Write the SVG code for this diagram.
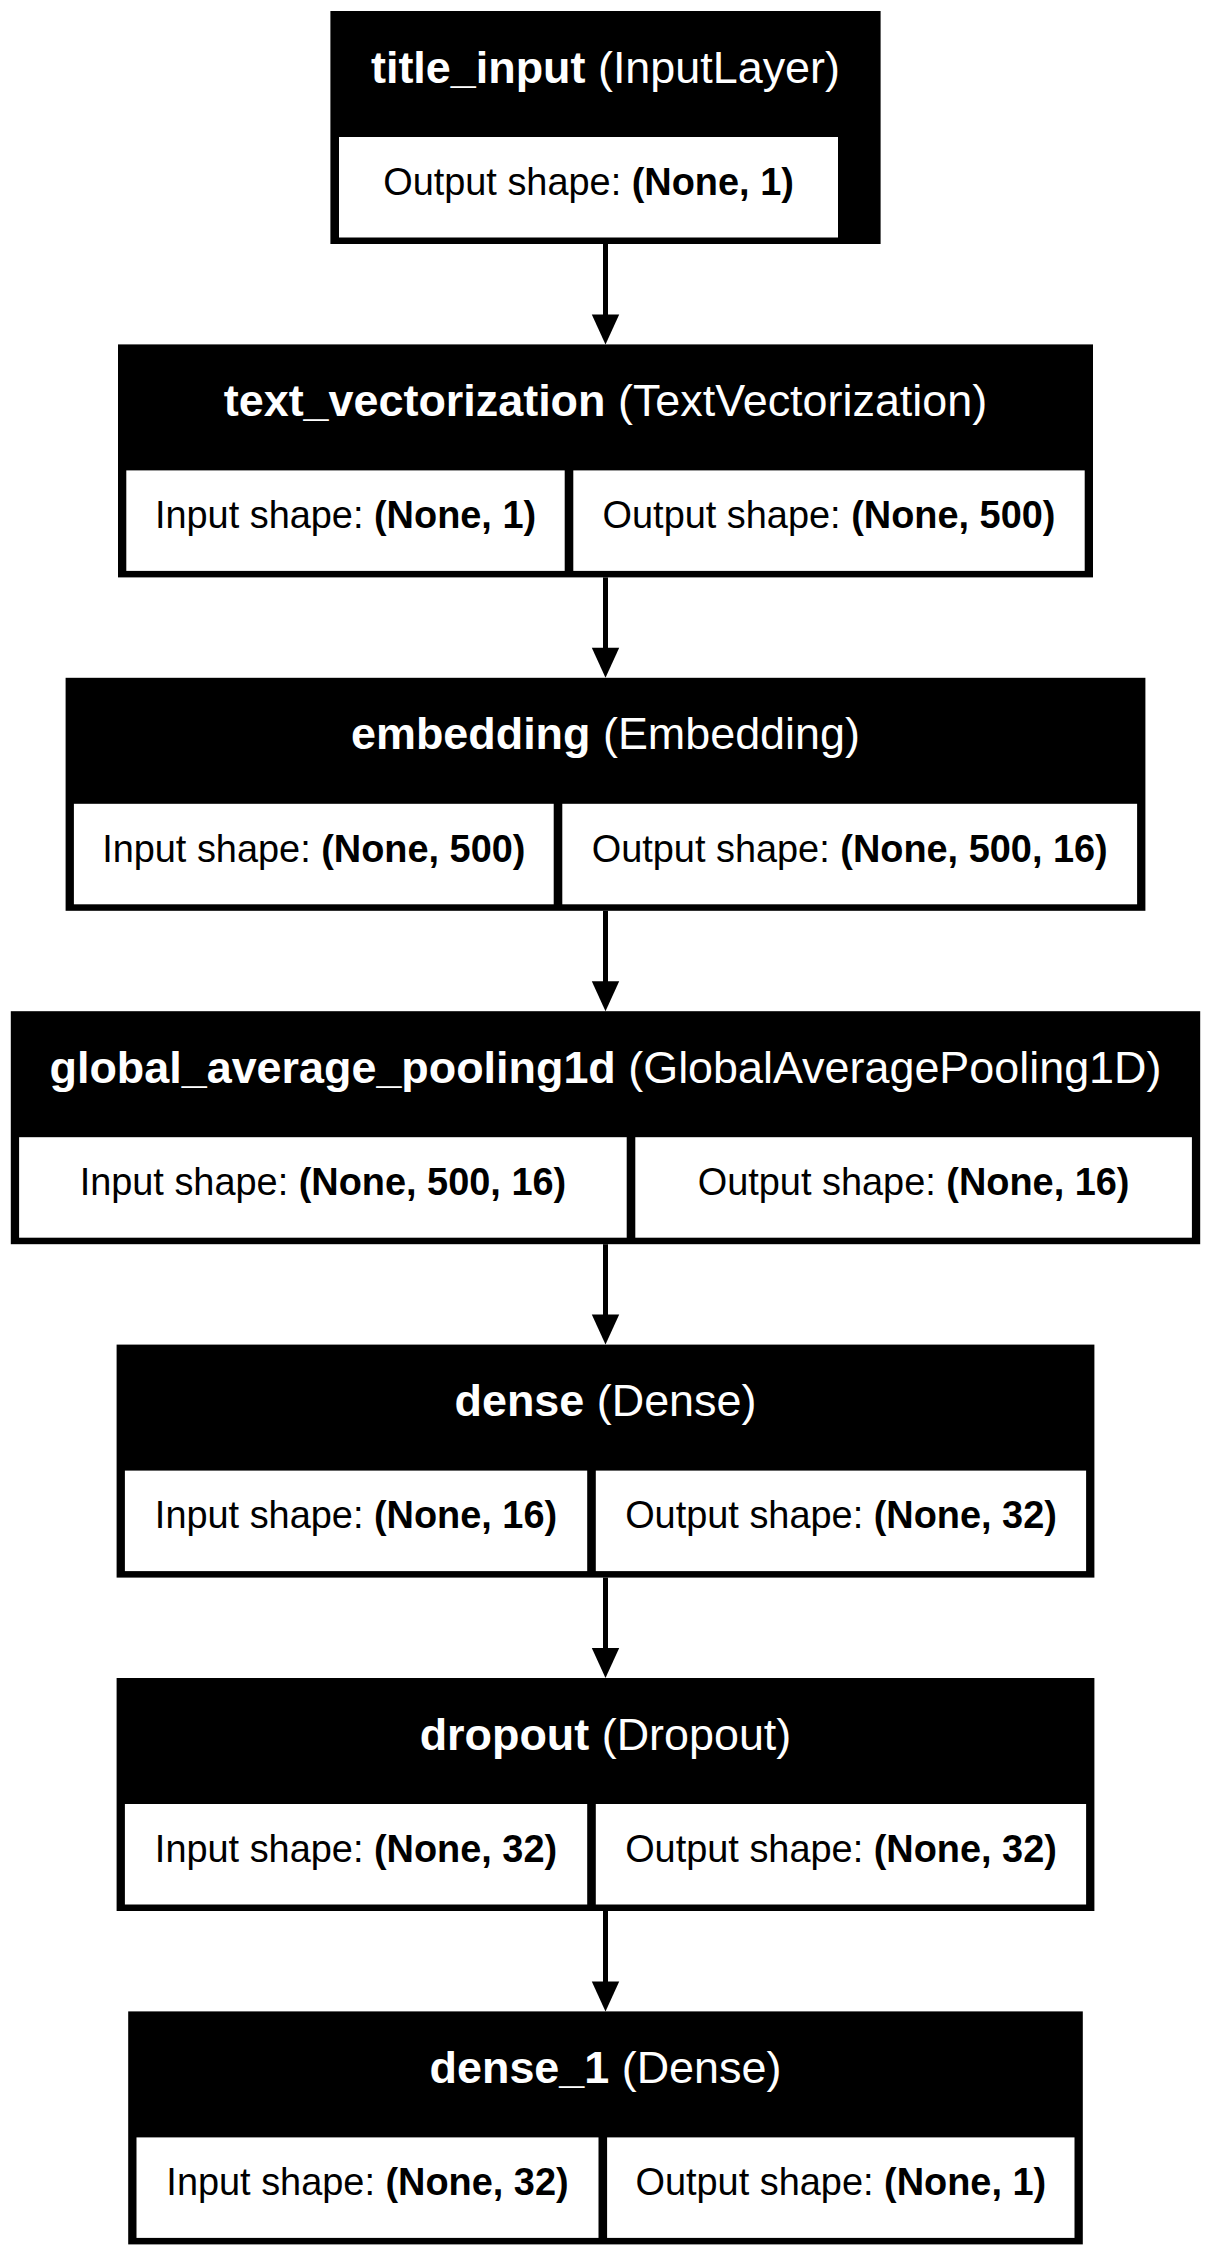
<svg xmlns="http://www.w3.org/2000/svg" width="1211" height="2256" viewBox="0 0 1211 2256">
<style>
.bg{fill:#ffffff}
.outer{fill:#000000}
.cell{fill:#ffffff}
.title{font-family:"Liberation Sans",Arial,sans-serif;font-size:44.9px;fill:#ffffff;text-anchor:middle}
.lbl{font-family:"Liberation Sans",Arial,sans-serif;font-size:37.9px;fill:#000000;text-anchor:middle}
.b{font-weight:bold}
.edge{stroke:#000000;stroke-width:5;fill:none}
.head{fill:#000000;stroke:none}
</style>
<rect class="bg" x="0" y="0" width="1211" height="2256"/>
<g id="connectors">
  <line class="edge" x1="605.5" y1="244" x2="605.5" y2="316"/>
  <polygon class="head" points="591.8,314.4 619.2,314.4 605.5,344.4"/>
  <line class="edge" x1="605.5" y1="577.4" x2="605.5" y2="649.4"/>
  <polygon class="head" points="591.8,647.8 619.2,647.8 605.5,677.8"/>
  <line class="edge" x1="605.5" y1="910.8" x2="605.5" y2="982.8"/>
  <polygon class="head" points="591.8,981.2 619.2,981.2 605.5,1011.2"/>
  <line class="edge" x1="605.5" y1="1244.2" x2="605.5" y2="1316.2"/>
  <polygon class="head" points="591.8,1314.6 619.2,1314.6 605.5,1344.6"/>
  <line class="edge" x1="605.5" y1="1577.6" x2="605.5" y2="1649.6"/>
  <polygon class="head" points="591.8,1648 619.2,1648 605.5,1678"/>
  <line class="edge" x1="605.5" y1="1911" x2="605.5" y2="1983"/>
  <polygon class="head" points="591.8,1981.4 619.2,1981.4 605.5,2011.4"/>
</g>
<g id="title_input">
  <rect class="outer" x="330.4" y="11" width="550.2" height="233"/>
  <rect class="cell" x="339" y="137" width="499" height="100.5"/>
  <text class="title" x="605.5" y="82.5"><tspan class="b">title_input</tspan> (InputLayer)</text>
  <text class="lbl" x="588.5" y="194.7">Output shape: <tspan class="b">(None, 1)</tspan></text>
</g>
<g id="text_vectorization">
  <rect class="outer" x="118" y="344.4" width="975" height="233"/>
  <rect class="cell" x="126.3" y="470.4" width="438.4" height="100.5"/>
  <rect class="cell" x="573.3" y="470.4" width="511.4" height="100.5"/>
  <text class="title" x="605.5" y="415.9"><tspan class="b">text_vectorization</tspan> (TextVectorization)</text>
  <text class="lbl" x="345.5" y="528.1">Input shape: <tspan class="b">(None, 1)</tspan></text>
  <text class="lbl" x="829" y="528.1">Output shape: <tspan class="b">(None, 500)</tspan></text>
</g>
<g id="embedding">
  <rect class="outer" x="65.6" y="677.8" width="1079.8" height="233"/>
  <rect class="cell" x="73.9" y="803.8" width="479.8" height="100.5"/>
  <rect class="cell" x="562.3" y="803.8" width="574.8" height="100.5"/>
  <text class="title" x="605.5" y="749.3"><tspan class="b">embedding</tspan> (Embedding)</text>
  <text class="lbl" x="313.8" y="861.5">Input shape: <tspan class="b">(None, 500)</tspan></text>
  <text class="lbl" x="849.7" y="861.5">Output shape: <tspan class="b">(None, 500, 16)</tspan></text>
</g>
<g id="global_average_pooling1d">
  <rect class="outer" x="10.8" y="1011.2" width="1189.4" height="233"/>
  <rect class="cell" x="19.1" y="1137.2" width="607.6" height="100.5"/>
  <rect class="cell" x="635.3" y="1137.2" width="556.6" height="100.5"/>
  <text class="title" x="605.5" y="1082.7"><tspan class="b">global_average_pooling1d</tspan> (GlobalAveragePooling1D)</text>
  <text class="lbl" x="322.9" y="1194.9">Input shape: <tspan class="b">(None, 500, 16)</tspan></text>
  <text class="lbl" x="913.6" y="1194.9">Output shape: <tspan class="b">(None, 16)</tspan></text>
</g>
<g id="dense">
  <rect class="outer" x="116.6" y="1344.6" width="977.8" height="233"/>
  <rect class="cell" x="124.9" y="1470.6" width="462.3" height="100.5"/>
  <rect class="cell" x="595.8" y="1470.6" width="490.3" height="100.5"/>
  <text class="title" x="605.5" y="1416.1"><tspan class="b">dense</tspan> (Dense)</text>
  <text class="lbl" x="356" y="1528.3">Input shape: <tspan class="b">(None, 16)</tspan></text>
  <text class="lbl" x="841" y="1528.3">Output shape: <tspan class="b">(None, 32)</tspan></text>
</g>
<g id="dropout">
  <rect class="outer" x="116.6" y="1678" width="977.8" height="233"/>
  <rect class="cell" x="124.9" y="1804" width="462.3" height="100.5"/>
  <rect class="cell" x="595.8" y="1804" width="490.3" height="100.5"/>
  <text class="title" x="605.5" y="1749.5"><tspan class="b">dropout</tspan> (Dropout)</text>
  <text class="lbl" x="356" y="1861.7">Input shape: <tspan class="b">(None, 32)</tspan></text>
  <text class="lbl" x="841" y="1861.7">Output shape: <tspan class="b">(None, 32)</tspan></text>
</g>
<g id="dense_1">
  <rect class="outer" x="128.2" y="2011.4" width="954.6" height="233"/>
  <rect class="cell" x="136.5" y="2137.4" width="462" height="100.5"/>
  <rect class="cell" x="607.1" y="2137.4" width="467.4" height="100.5"/>
  <text class="title" x="605.5" y="2082.9"><tspan class="b">dense_1</tspan> (Dense)</text>
  <text class="lbl" x="367.5" y="2195.1">Input shape: <tspan class="b">(None, 32)</tspan></text>
  <text class="lbl" x="840.8" y="2195.1">Output shape: <tspan class="b">(None, 1)</tspan></text>
</g>
</svg>
